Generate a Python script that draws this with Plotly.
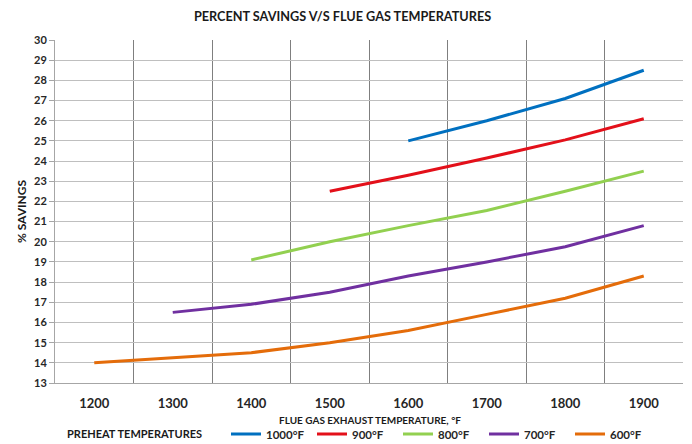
import plotly.graph_objects as go

categories = ["1200", "1300", "1400", "1500", "1600", "1700", "1800", "1900"]
series_names = ["1000°F", "900°F", "800°F", "700°F", "600°F"]
s1000 = [None, None, None, None, 25.0, 26.0, 27.1, 28.5]
s900 = [None, None, None, 22.5, 23.3, 24.15, 25.05, 26.1]
s800 = [None, None, 19.1, 20.0, 20.8, 21.55, 22.5, 23.5]
s700 = [None, 16.5, 16.9, 17.5, 18.3, 19.0, 19.75, 20.8]
s600 = [14.0, 14.25, 14.5, 15.0, 15.6, 16.4, 17.2, 18.3]
colors = ["#0070C0", "#E3101A", "#92D050", "#7030A0", "#E46C0A"]

FONT = "Lato"
fig = go.Figure()
for name, vals, col in zip(series_names, [s1000, s900, s800, s700, s600], colors):
    fig.add_trace(go.Scatter(x=categories, y=vals, name=name, mode="lines",
                             line=dict(color=col, width=3), connectgaps=False))

fig.update_layout(
    width=692, height=444,
    margin=dict(l=55, r=9, t=40, b=61, autoexpand=False),
    paper_bgcolor="white", plot_bgcolor="white",
    font=dict(family=FONT, color="#262626"),
    title=dict(text="PERCENT SAVINGS V/S FLUE GAS TEMPERATURES",
               font=dict(size=12.7, family=FONT, weight="bold", color="#1a1a1a"),
               x=0.495, xanchor="center", y=1 - 17 / 444, yanchor="middle"),
    showlegend=True,
    legend=dict(orientation="h", xref="container", yref="container",
                x=226 / 692, xanchor="left",
                y=1 - 434 / 444, yanchor="middle",
                font=dict(size=11.5, family=FONT, weight="bold", color="#262626"),
                entrywidth=41, entrywidthmode="pixels",
                itemwidth=30, traceorder="normal", bgcolor="rgba(0,0,0,0)",
                borderwidth=0, tracegroupgap=0),
    xaxis=dict(type="category", range=[-0.5, 7.5], tickson="boundaries",
               showgrid=True, gridcolor="#7f7f7f", gridwidth=1,
               showline=True, linecolor="#a6a6a6", ticks="",
               ticklabelstandoff=8,
               tickfont=dict(size=13, family=FONT, weight="bold", color="#262626"),
               fixedrange=True),
    yaxis=dict(range=[13, 30], dtick=1, showgrid=True, gridcolor="#bfbfbf",
               gridwidth=1, showline=True, linecolor="#a6a6a6",
               ticks="outside", ticklen=5, tickcolor="#a6a6a6",
               tickfont=dict(size=11, family=FONT, weight="bold", color="#262626"),
               title=dict(text="% SAVINGS", standoff=4,
                          font=dict(size=12, family=FONT, weight="bold", color="#1a1a1a")),
               zeroline=False),
    annotations=[
        dict(text="FLUE GAS EXHAUST TEMPERATURE, °F", xref="paper", yref="paper",
             x=(370 - 55) / 628, y=(383 - 420) / 343, xanchor="center", yanchor="middle",
             showarrow=False, font=dict(size=10, family=FONT, weight="bold", color="#1a1a1a")),
        dict(text="PREHEAT TEMPERATURES", xref="paper", yref="paper",
             x=(65 - 55) / 628, y=(383 - 434) / 343, xanchor="left", yanchor="middle",
             showarrow=False, font=dict(size=11, family=FONT, weight="bold", color="#1a1a1a")),
    ],
)

fig.write_html("out.html", config={"displayModeBar": False},
               post_script="document.body.style.margin='0';")
